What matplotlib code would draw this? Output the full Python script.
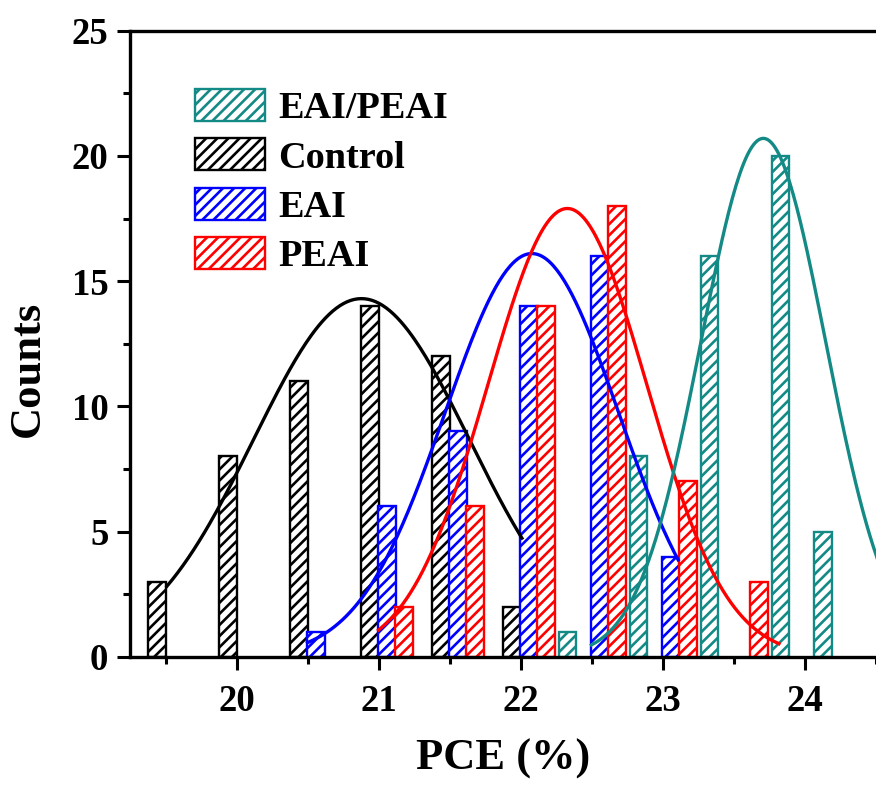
import numpy as np
import matplotlib
matplotlib.use("Agg")
import matplotlib.pyplot as plt
from matplotlib.ticker import MultipleLocator

# bar centres (PCE, %) and counts
control_x = [19.44, 19.94, 20.44, 20.94, 21.44, 21.94]
control_n = [3, 8, 11, 14, 12, 2]
eai_x = [20.56, 21.06, 21.56, 22.06, 22.56, 23.06]
eai_n = [1, 6, 9, 14, 16, 4]
peai_x = [21.18, 21.68, 22.18, 22.68, 23.18, 23.68]
peai_n = [2, 6, 14, 18, 7, 3]
mix_x = [22.33, 22.83, 23.33, 23.83, 24.13]
mix_n = [1, 8, 16, 20, 5]

# gaussian fit parameters: (centre, sigma, amplitude, x start, x end)
control_fit = (20.88, 0.76, 14.3, 19.51, 22.01)
eai_fit = (22.08, 0.61, 16.1, 20.50, 23.11)
peai_fit = (22.33, 0.56, 17.9, 21.00, 23.82)
mix_fit = (23.71, 0.44, 20.7, 22.50, 25.0)

teal = "#138a85"
bar_w = 0.123

plt.rcParams["font.family"] = ["Liberation Serif", "DejaVu Serif"]
plt.rcParams["font.weight"] = "bold"
plt.rcParams["hatch.linewidth"] = 1.9

fig = plt.figure(figsize=(8.76, 7.89), dpi=100)
ax = fig.add_axes([130 / 876, 132.3 / 789, 759.7 / 876, 626 / 789])


def fit_curve(p):
    mu, sig, amp, x0, x1 = p
    xs = np.linspace(x0, x1, 200)
    return xs, amp * np.exp(-(xs - mu) ** 2 / (2 * sig ** 2))


series = [
    (mix_x, mix_n, teal, "EAI/PEAI"),
    (control_x, control_n, "black", "Control"),
    (eai_x, eai_n, "blue", "EAI"),
    (peai_x, peai_n, "red", "PEAI"),
]
for xs, ns, col, lab in series:
    ax.bar(xs, ns, width=bar_w, facecolor="white", edgecolor=col,
           linewidth=1.7, hatch="///", label=lab, zorder=2)

for p, col in [(control_fit, "black"), (eai_fit, "blue"),
               (peai_fit, "red"), (mix_fit, teal)]:
    cx, cy = fit_curve(p)
    ax.plot(cx, cy, color=col, lw=2.4, zorder=3)

ax.set_xlim(19.25, 24.6)
ax.set_ylim(0, 25)
ax.xaxis.set_major_locator(MultipleLocator(1))
ax.xaxis.set_minor_locator(MultipleLocator(0.5))
ax.yaxis.set_major_locator(MultipleLocator(5))
ax.yaxis.set_minor_locator(MultipleLocator(2.5))

for s in ax.spines.values():
    s.set_linewidth(2.4)
ax.spines["right"].set_visible(False)
ax.tick_params(which="major", direction="out", length=9.5, width=2.2,
               labelsize=26.5)
ax.tick_params(which="minor", direction="out", length=5.3, width=2.2)
ax.tick_params(axis="x", which="major", pad=10)
ax.tick_params(axis="y", which="major", pad=6)

ax.set_xlabel("PCE (%)", fontsize=32, fontweight="bold")
ax.xaxis.set_label_coords(0.491, -0.181)
ax.xaxis.label.set_va("baseline")
ax.set_ylabel("Counts", fontsize=32, fontweight="bold")
ax.yaxis.set_label_coords(-0.134, 0.46)
ax.yaxis.label.set_va("center")

ax.legend(loc="upper left", bbox_to_anchor=(195 / 876, 1 - 89 / 789),
          bbox_transform=fig.transFigure, frameon=False, borderpad=0,
          borderaxespad=0, handlelength=1.84, handleheight=0.91,
          handletextpad=0.34, labelspacing=0.32,
          prop={"weight": "bold", "size": 27.5})

fig.savefig("out.png", dpi=100)
